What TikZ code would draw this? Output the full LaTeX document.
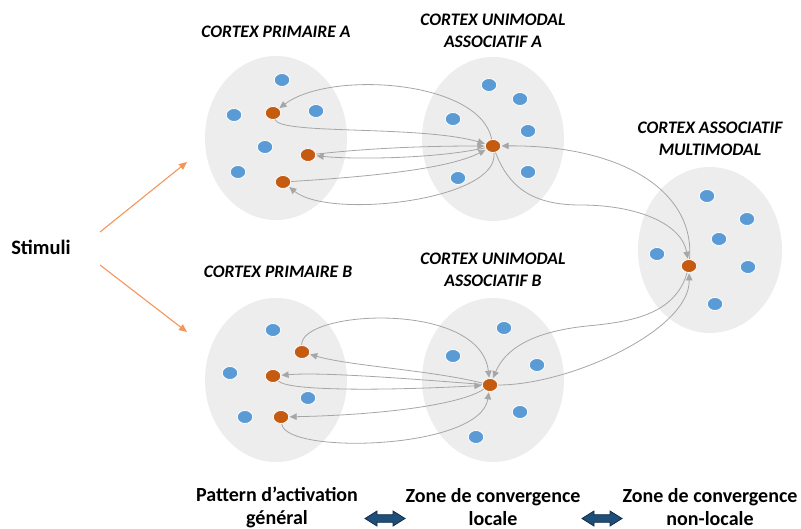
\documentclass[tikz,border=0pt]{standalone}
\usepackage{fontspec}
\setmainfont{Carlito}
\usetikzlibrary{shapes.geometric,arrows.meta}
\definecolor{zonegray}{RGB}{237,237,237}
\definecolor{bluedot}{RGB}{91,155,213}
\definecolor{orangedot}{RGB}{197,90,17}
\definecolor{conngray}{RGB}{166,166,166}
\definecolor{stimorange}{RGB}{244,150,90}
\definecolor{darrow}{RGB}{31,78,121}
\definecolor{darrowedge}{RGB}{18,45,72}
\begin{document}
\begin{tikzpicture}[x=1pt,y=-1pt,
  zone/.style={ellipse, fill=zonegray, minimum width=142pt, minimum height=164pt, inner sep=0pt},
  bdot/.style={ellipse, fill=bluedot, draw=white, line width=0.8pt, minimum width=15.5pt, minimum height=13pt, inner sep=0pt},
  odot/.style={ellipse, fill=orangedot, draw=white, line width=0.8pt, minimum width=15.5pt, minimum height=13pt, inner sep=0pt},
  link/.style={draw=conngray, line width=0.8pt, -{Triangle[length=7pt,width=6.5pt]}, shorten >=0.5pt},
  stimlink/.style={draw=stimorange, line width=1.1pt, -{Triangle[length=8pt,width=7pt]}},
  title/.style={font=\fontsize{17.6}{21.7}\selectfont\bfseries\itshape, align=center, inner sep=0pt},
  bottomlbl/.style={font=\fontsize{20}{23}\selectfont\bfseries, align=center, inner sep=0pt},
  dblarrow/.style={fill=darrow, draw=darrowedge, line width=0.8pt, line join=miter},
  pics/dbl/.style={code={\draw[dblarrow] (-20,0) -- (-8,-7.5) -- (-8,-3.8) -- (8,-3.8) -- (8,-7.5) -- (20,0) -- (8,7.5) -- (8,3.8) -- (-8,3.8) -- (-8,7.5) -- cycle;}}
]
\useasboundingbox (0,0) rectangle (801,529);

% zones
\node[zone] (zpa) at (276,138) {};
\node[zone] (zua) at (493,139) {};
\node[zone] (zpb) at (276,380) {};
\node[zone] (zub) at (493,380) {};
\node[zone, minimum width=144pt, minimum height=166pt] (zmm) at (710,250) {};

% titles
\node[title] (tpa) at (276,32) {CORTEX PRIMAIRE A};
\node[title] (tua) at (493,31) {CORTEX UNIMODAL\\ASSOCIATIF A};
\node[title] (tmm) at (710,139) {CORTEX ASSOCIATIF\\MULTIMODAL};
\node[title] (tpb) at (278,272) {CORTEX PRIMAIRE B};
\node[title] (tub) at (493,270) {CORTEX UNIMODAL\\ASSOCIATIF B};

% stimuli
\node[font=\fontsize{20.5}{23}\selectfont\bfseries, inner sep=0pt] (stim) at (41,247) {Stimuli};
\coordinate (s1) at (100,232);
\coordinate (e1) at (187,162);
\coordinate (s2) at (100,265);
\coordinate (e2) at (187,332);
\draw[stimlink] (s1) -- (e1);
\draw[stimlink] (s2) -- (e2);

% primaire A dots
\node[bdot] (pab1) at (282,80) {};
\node[bdot] (pab2) at (234,115) {};
\node[bdot] (pab3) at (316,111) {};
\node[bdot] (pab4) at (265,147) {};
\node[bdot] (pab5) at (238,172) {};
\node[odot] (pa1) at (273,113) {};
\node[odot] (pa2) at (308,155) {};
\node[odot] (pa3) at (283,182) {};

% unimodal A dots
\node[bdot] (uab1) at (489,85) {};
\node[bdot] (uab2) at (520,99) {};
\node[bdot] (uab3) at (453,119) {};
\node[bdot] (uab4) at (528,131) {};
\node[bdot] (uab5) at (458,178) {};
\node[bdot] (uab6) at (528,172) {};
\node[odot] (ua) at (493,146) {};

% multimodal dots
\node[bdot] (mmb1) at (707,196) {};
\node[bdot] (mmb2) at (747,219) {};
\node[bdot] (mmb3) at (719,239) {};
\node[bdot] (mmb4) at (657,254) {};
\node[bdot] (mmb5) at (748,267) {};
\node[bdot] (mmb6) at (715,304) {};
\node[odot] (mm) at (689,266) {};

% primaire B dots
\node[bdot] (pbb1) at (273,330) {};
\node[bdot] (pbb2) at (230,373) {};
\node[bdot] (pbb3) at (308,398) {};
\node[bdot] (pbb4) at (245,417) {};
\node[odot] (pb1) at (302,352) {};
\node[odot] (pb2) at (273,376) {};
\node[odot] (pb3) at (281,417) {};

% unimodal B dots
\node[bdot] (ubb1) at (504,328) {};
\node[bdot] (ubb2) at (453,356) {};
\node[bdot] (ubb3) at (537,365) {};
\node[bdot] (ubb4) at (520,412) {};
\node[bdot] (ubb5) at (476,437) {};
\node[odot] (ub) at (490,385) {};

% connectors top
\draw[link] (ua) .. controls (480,80) and (330,70) .. (pa1);
\draw[link] (pa1) .. controls (280,135) and (420,125) .. (ua);
\draw[link] (pa2) .. controls (380,147) and (440,146) .. (ua);
\draw[link] (ua) .. controls (440,158) and (360,160) .. (pa2);
\draw[link] (pa3) .. controls (380,176) and (450,168) .. (ua);
\draw[link] (ua) .. controls (500,200) and (330,220) .. (pa3);
\draw[link] (ua) .. controls (508,185) and (530,205) .. (580,205) .. controls (640,205) and (682,225) .. (mm);
\draw[link] (mm) .. controls (695,190) and (620,145) .. (ua);

% connectors bottom
\draw[link] (pb1) .. controls (300,310) and (480,300) .. (ub);
\draw[link] (ub) .. controls (430,370) and (350,366) .. (pb1);
\draw[link] (ub) .. controls (400,378) and (320,372) .. (pb2);
\draw[link] (pb2) .. controls (290,392) and (400,390) .. (ub);
\draw[link] (ub) .. controls (460,405) and (380,415) .. (pb3);
\draw[link] (pb3) .. controls (285,455) and (480,450) .. (ub);
\draw[link] (mm) .. controls (675,315) and (630,322) .. (587,326) .. controls (530,332) and (505,350) .. (ub);
\draw[link] (ub) .. controls (570,385) and (690,330) .. (mm);

% bottom labels
\node[bottomlbl] (lpa) at (277,507) {Pattern d’activation\\général};
\node[bottomlbl] (lua) at (493,507) {Zone de convergence\\locale};
\node[bottomlbl] (lmm) at (710,507) {Zone de convergence\\non-locale};

\pic (da1) at (385,518.5) {dbl};
\pic (da2) at (602,518.5) {dbl};
\end{tikzpicture}
\end{document}
